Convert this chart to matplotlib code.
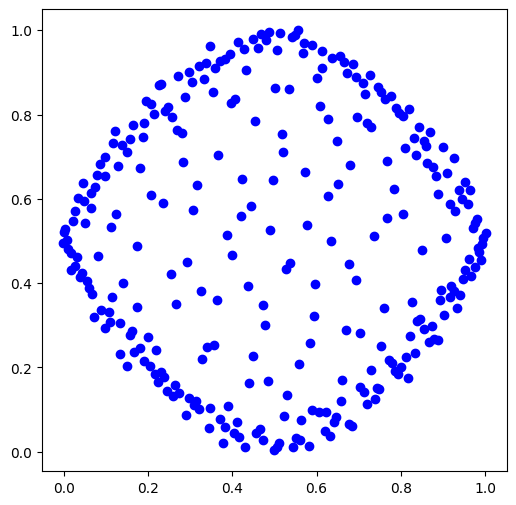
import numpy as np
import matplotlib.pyplot as plt

# points, grouped roughly by region
x_top = [0.346, 0.414, 0.448, 0.468, 0.480, 0.488, 0.514, 0.541, 0.548, 0.555,
         0.428, 0.461, 0.506, 0.570, 0.589, 0.568, 0.613, 0.637, 0.655, 0.664,
         0.687, 0.672, 0.694, 0.612, 0.602, 0.321, 0.338, 0.360, 0.370, 0.383,
         0.395, 0.432, 0.333, 0.354, 0.501, 0.535, 0.396, 0.407, 0.607, 0.628,
         0.695, 0.454, 0.518, 0.648, 0.521, 0.366, 0.680, 0.573]
y_top = [0.963, 0.971, 0.979, 0.990, 0.976, 0.995, 0.993, 0.983, 0.989, 1.000,
         0.955, 0.959, 0.952, 0.969, 0.966, 0.945, 0.950, 0.935, 0.940, 0.925,
         0.919, 0.899, 0.888, 0.910, 0.886, 0.916, 0.922, 0.911, 0.928, 0.933,
         0.943, 0.905, 0.884, 0.854, 0.862, 0.860, 0.828, 0.838, 0.821, 0.789,
         0.793, 0.785, 0.753, 0.738, 0.712, 0.703, 0.680, 0.664]

x_upleft = [0.298, 0.272, 0.304, 0.227, 0.232, 0.288, 0.196, 0.208, 0.248, 0.240,
            0.214, 0.256, 0.190, 0.165, 0.122, 0.270, 0.280, 0.158, 0.187, 0.117,
            0.139, 0.151, 0.099, 0.085, 0.130, 0.181, 0.282]
y_upleft = [0.902, 0.892, 0.878, 0.869, 0.872, 0.842, 0.831, 0.825, 0.819, 0.809,
            0.802, 0.795, 0.781, 0.776, 0.762, 0.763, 0.755, 0.743, 0.747, 0.732,
            0.728, 0.710, 0.698, 0.683, 0.678, 0.672, 0.688]

x_left = [0.079, 0.097, 0.045, 0.075, 0.065, 0.033, 0.049, 0.064, 0.027, 0.125,
          0.316, 0.206, 0.236, 0.306, 0.021, 0.051, 0.113, 0.004, 0.000, 0.007,
          -0.002, 0.173, 0.011, 0.017, 0.032, 0.082, 0.292, 0.026, 0.017, 0.043,
          0.254, 0.039, 0.056, 0.141, 0.059, 0.068, 0.325, 0.115, 0.175, 0.266,
          0.089, 0.107, 0.073]
y_left = [0.657, 0.655, 0.638, 0.629, 0.614, 0.603, 0.595, 0.579, 0.570, 0.563,
          0.632, 0.608, 0.591, 0.574, 0.548, 0.542, 0.534, 0.528, 0.521, 0.501,
          0.496, 0.489, 0.481, 0.472, 0.462, 0.464, 0.451, 0.441, 0.432, 0.425,
          0.422, 0.414, 0.406, 0.401, 0.389, 0.374, 0.382, 0.368, 0.344, 0.351,
          0.335, 0.331, 0.319]

x_lowleft = [0.109, 0.099, 0.134, 0.163, 0.157, 0.199, 0.182, 0.167, 0.133, 0.220,
             0.150, 0.191, 0.204, 0.216, 0.230, 0.239, 0.223, 0.263, 0.246, 0.259,
             0.274, 0.297, 0.314, 0.310, 0.322, 0.290, 0.328]
y_lowleft = [0.308, 0.293, 0.305, 0.285, 0.277, 0.273, 0.245, 0.237, 0.232, 0.242,
             0.202, 0.215, 0.204, 0.183, 0.188, 0.177, 0.166, 0.158, 0.144, 0.132,
             0.138, 0.128, 0.121, 0.110, 0.101, 0.087, 0.220]

x_bottom = [0.593, 0.478, 0.669, 0.339, 0.357, 0.585, 0.449, 0.558, 0.440, 0.485,
            0.661, 0.530, 0.659, 0.348, 0.390, 0.372, 0.383, 0.411, 0.344, 0.404,
            0.416, 0.378, 0.430, 0.456, 0.465, 0.472, 0.498, 0.506, 0.511, 0.523,
            0.564, 0.545, 0.551, 0.561, 0.581, 0.589, 0.605, 0.623, 0.645, 0.641,
            0.619, 0.631, 0.677, 0.685]
y_bottom = [0.322, 0.301, 0.289, 0.249, 0.253, 0.258, 0.227, 0.208, 0.162, 0.168,
            0.171, 0.135, 0.119, 0.104, 0.108, 0.078, 0.059, 0.069, 0.055, 0.045,
            0.035, 0.021, 0.010, 0.044, 0.053, 0.028, 0.003, 0.010, 0.020, 0.085,
            0.076, 0.011, 0.032, 0.027, 0.013, 0.098, 0.093, 0.095, 0.081, 0.071,
            0.048, 0.037, 0.065, 0.061]

x_lowright = [0.704, 0.760, 0.839, 0.846, 0.903, 0.854, 0.874, 0.822, 0.879, 0.887,
              0.866, 0.753, 0.834, 0.812, 0.772, 0.780, 0.800, 0.785, 0.794, 0.816,
              0.730, 0.702, 0.712, 0.744, 0.748, 0.739, 0.719]
y_lowright = [0.281, 0.340, 0.310, 0.314, 0.324, 0.292, 0.299, 0.275, 0.268, 0.265,
              0.261, 0.251, 0.233, 0.225, 0.218, 0.210, 0.200, 0.192, 0.184, 0.175,
              0.194, 0.154, 0.142, 0.152, 0.148, 0.124, 0.114]

x_upright = [0.726, 0.709, 0.745, 0.714, 0.754, 0.776, 0.762, 0.788, 0.819, 0.796,
             0.806, 0.720, 0.728, 0.843, 0.869, 0.830, 0.854, 0.860, 0.900, 0.810,
             0.835, 0.927, 0.768, 0.862, 0.876]
y_upright = [0.895, 0.876, 0.866, 0.849, 0.854, 0.845, 0.837, 0.816, 0.813, 0.803,
             0.797, 0.779, 0.771, 0.770, 0.759, 0.745, 0.736, 0.726, 0.722, 0.720,
             0.705, 0.696, 0.690, 0.686, 0.675]

x_right = [0.909, 0.884, 0.953, 0.784, 0.937, 0.963, 0.888, 0.944, 0.959, 0.917,
           0.929, 0.804, 0.766, 0.981, 0.977, 0.970, 1.001, 0.995, 0.736, 0.908,
           0.993, 0.983, 0.986, 0.850, 0.991, 0.961, 0.975, 0.677, 0.951, 0.967,
           0.947, 0.693, 0.920, 0.896, 0.927, 0.941, 0.916, 0.893, 0.826, 0.933]
y_right = [0.662, 0.653, 0.640, 0.624, 0.620, 0.622, 0.612, 0.599, 0.588, 0.587,
           0.571, 0.565, 0.555, 0.551, 0.542, 0.530, 0.519, 0.507, 0.511, 0.507,
           0.493, 0.484, 0.473, 0.479, 0.455, 0.458, 0.438, 0.446, 0.430, 0.417,
           0.410, 0.408, 0.394, 0.384, 0.380, 0.372, 0.367, 0.360, 0.355, 0.341]

x_mid = [0.424, 0.496, 0.652, 0.626, 0.445, 0.421, 0.578, 0.490, 0.387, 0.635,
         0.399, 0.538, 0.527, 0.597, 0.437, 0.363, 0.473]
y_mid = [0.648, 0.645, 0.636, 0.606, 0.582, 0.558, 0.538, 0.525, 0.515, 0.499,
         0.467, 0.448, 0.434, 0.398, 0.392, 0.359, 0.348]

x = x_top + x_upleft + x_left + x_lowleft + x_bottom + x_lowright + x_upright + x_right + x_mid
y = y_top + y_upleft + y_left + y_lowleft + y_bottom + y_lowright + y_upright + y_right + y_mid

fig, ax = plt.subplots(figsize=(6, 6))
ax.scatter(x, y, c='blue')
plt.savefig('out.png', bbox_inches='tight')
